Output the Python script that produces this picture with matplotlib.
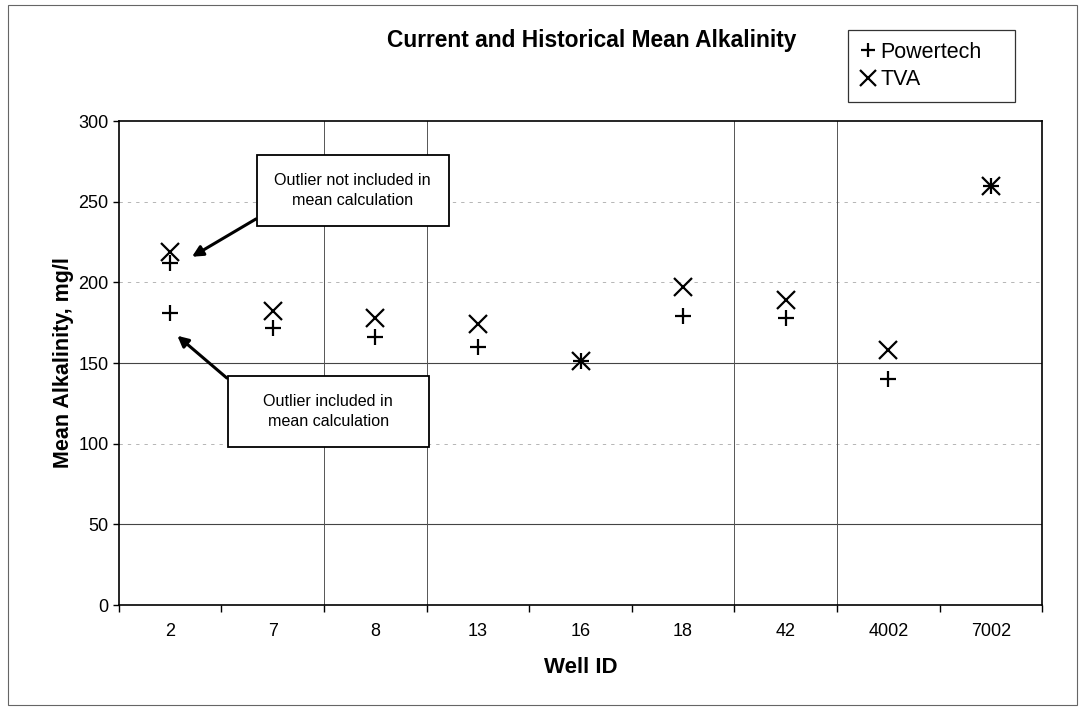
import matplotlib
matplotlib.use('Agg')
import matplotlib.pyplot as plt
from matplotlib.patches import Rectangle
import numpy as np

plt.rcParams['font.family'] = ['Liberation Sans', 'DejaVu Sans']

wells = ['2', '7', '8', '13', '16', '18', '42', '4002', '7002']
powertech = [212, 172, 166, 160, 151, 179, 178, 140, 260]
tva = [219, 182, 178, 174, 151, 197, 189, 158, 260]
# Powertech mean at well 2 with the outlier kept in
powertech_outlier_well = '2'
powertech_outlier = 181

fig = plt.figure(figsize=(10.8, 7.16), dpi=100)
ax = fig.add_axes([0.110, 0.155, 0.855, 0.676])

x = np.arange(len(wells))
ax.plot(x, powertech, linestyle='none', marker='+', markersize=11,
        mew=1.6, color='black', label='Powertech', zorder=3)
ax.plot(x, tva, linestyle='none', marker='x', markersize=13,
        mew=1.6, color='black', label='TVA', zorder=3)
ax.plot([wells.index(powertech_outlier_well)], [powertech_outlier],
        linestyle='none', marker='+', markersize=11, mew=1.6,
        color='black', zorder=3)

ax.set_xlim(-0.5, len(wells) - 0.5)
ax.set_ylim(0, 300)
ax.set_yticks(range(0, 301, 50))
ax.set_xticks(x)
ax.set_xticklabels(wells)
ax.set_xticks(np.arange(-0.5, len(wells)), minor=True)
ax.tick_params(axis='x', which='major', length=0, pad=13, labelsize=13)
ax.tick_params(axis='x', which='minor', length=5, direction='out', width=1)
ax.tick_params(axis='y', length=4, direction='out', labelsize=13, width=1)

# gridlines as they survive in the scan
for g in [50, 150]:
    ax.axhline(g, color='#444444', lw=0.8, zorder=1)
for g in [100, 200, 250]:
    ax.axhline(g, color='#aaaaaa', lw=0.6, ls=(0, (4, 6)), zorder=1)
for b in [1.5, 2.5, 5.5, 6.5]:
    ax.axvline(b, color='#555555', lw=0.7, zorder=1)

for s in ax.spines.values():
    s.set_linewidth(1.2)
    s.set_color('black')

ax.set_xlabel('Well ID', fontsize=16, fontweight='bold', labelpad=12)
ax.set_ylabel('Mean Alkalinity, mg/l', fontsize=15.5, fontweight='bold', labelpad=3)

box = dict(boxstyle='square,pad=1.1', facecolor='white', edgecolor='black', lw=1.3)
arrow = dict(arrowstyle='-|>', lw=2.2, color='black', mutation_scale=16,
             shrinkA=0, shrinkB=2)
ax.annotate('Outlier not included in\nmean calculation', xy=(0.19, 215),
            xytext=(1.78, 257), ha='center', va='center', fontsize=11.6,
            linespacing=1.45, bbox=box,
            arrowprops=dict(arrow, relpos=(0, 0)), zorder=4)
ax.annotate('    Outlier included in    \nmean calculation', xy=(0.05, 168),
            xytext=(1.54, 120), ha='center', va='center', fontsize=11.6,
            linespacing=1.45, bbox=box,
            arrowprops=dict(arrow, relpos=(0, 1)), zorder=4)

fig.text(0.548, 0.944, 'Current and Historical Mean Alkalinity', ha='center',
         va='center', fontsize=16.4, fontweight='bold')

leg = fig.legend(loc='upper left', bbox_to_anchor=(0.785, 0.865, 0.155, 0.093),
                 mode='expand', frameon=True, fancybox=False, fontsize=15.5,
                 handlelength=0.8, handletextpad=0.15, borderpad=0.55,
                 labelspacing=0.3, markerscale=0.9, borderaxespad=0)
leg.get_frame().set_edgecolor('black')
leg.get_frame().set_linewidth(0.9)

# outer frame of the scanned page
fig.add_artist(Rectangle((0.007, 0.015), 0.99, 0.978, transform=fig.transFigure,
                         fill=False, edgecolor='#666666', lw=0.8))

fig.savefig('out.png', dpi=100, facecolor='white')
